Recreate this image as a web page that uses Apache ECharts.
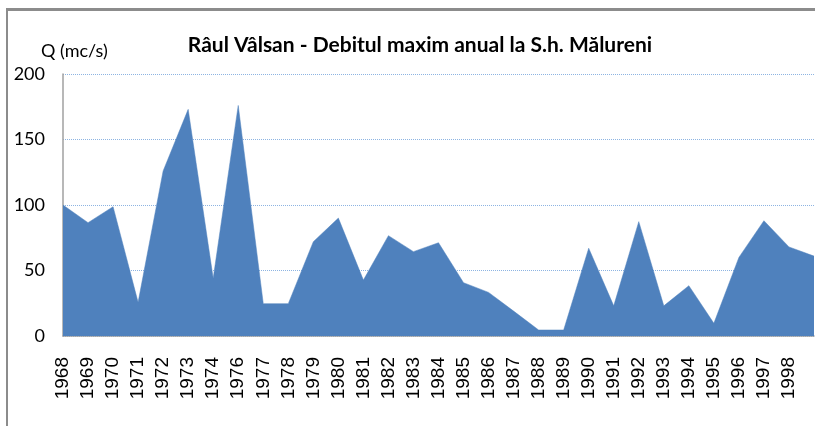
<!DOCTYPE html>
<html style="height: 100%">
<head>
    <meta charset="UTF-8">
    <title>Râul Vâlsan</title>
</head>
<body style="height: 100%; margin: 0; background: #fff">
<div id="frame" style="position: absolute; left: 6px; top: 8px; right: 0; bottom: 0; border-top: 3px solid #8c8c8c; border-left: 2px solid #8c8c8c"></div>
<div id="container" style="position: absolute; left: 0; top: 0; width: 815px; height: 426px"></div>

<script type="text/javascript" src="https://cdn.jsdelivr.net/npm/echarts@6/dist/echarts.min.js"></script>
<script type="text/javascript">
    // ani (1975 lipseste din sir)
    var years = ['1968', '1969', '1970', '1971', '1972', '1973', '1974', '1976', '1977', '1978',
        '1979', '1980', '1981', '1982', '1983', '1984', '1985', '1986', '1987', '1988',
        '1989', '1990', '1991', '1992', '1993', '1994', '1995', '1996', '1997', '1998', '1999'];
    // debit maxim anual Q (mc/s)
    var qMax = [100, 86.5, 98.7, 25.7, 126, 173, 44, 176, 24.7, 24.7,
        72, 90, 42.7, 76.6, 64.4, 71.2, 40.7, 33.3, 19, 4.6,
        4.6, 67, 23, 87.3, 23, 38.4, 9.7, 60, 88, 68, 61];
    var yTicks = [0, 50, 100, 150, 200];

    var myChart = echarts.init(document.getElementById('container'));

    var option = {
        animation: false,
        title: [
            {
                text: 'Râul Vâlsan - Debitul maxim anual la S.h. Mălureni',
                left: 415,
                textAlign: 'center',
                top: 30,
                textStyle: {fontFamily: 'Lato', fontWeight: 'bold', fontSize: 21, color: '#000'}
            },
            {
                text: 'Q (mc/s)',
                left: 36,
                top: 37,
                textStyle: {fontFamily: 'Lato', fontWeight: 'normal', fontSize: 18, color: '#000'}
            }
        ],
        grid: {left: 63, right: 1, top: 74, bottom: 90},
        xAxis: {
            type: 'category',
            data: years,
            boundaryGap: false,
            axisLine: {lineStyle: {color: '#a0a0a0', width: 1.5}},
            axisTick: {show: false},
            axisLabel: {
                rotate: 90,
                margin: 21,
                fontFamily: 'Liberation Sans',
                fontSize: 19,
                color: '#000',
                interval: function (idx) {
                    return idx < years.length - 1;
                }
            },
            splitLine: {show: false}
        },
        yAxis: {
            type: 'value',
            min: yTicks[0],
            max: yTicks[yTicks.length - 1],
            interval: 50,
            axisLine: {show: true, lineStyle: {color: '#a0a0a0', width: 1.5}},
            axisTick: {show: false},
            axisLabel: {
                margin: 18,
                fontFamily: 'Lato',
                fontSize: 18,
                color: '#000'
            },
            splitLine: {lineStyle: {color: '#8db4e2', type: 'dotted', width: 1}}
        },
        series: [
            {
                type: 'line',
                data: qMax,
                symbol: 'none',
                lineStyle: {color: '#4f81bd', width: 0.5},
                areaStyle: {color: '#4f81bd', opacity: 1}
            }
        ]
    };

    myChart.setOption(option);
</script>
</body>
</html>
